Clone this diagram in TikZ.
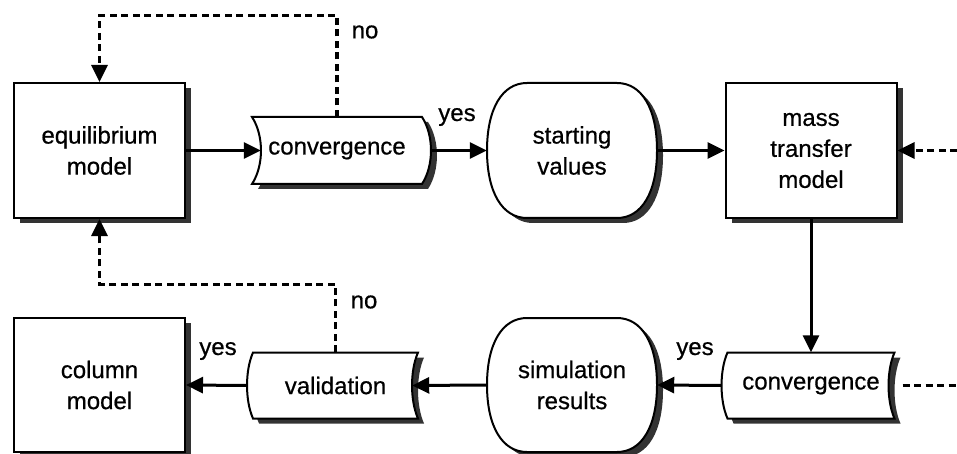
\documentclass[tikz,border=0pt]{standalone}
\usepackage{fontspec}
\setmainfont{Liberation Sans}[FakeBold=0.6]
\usetikzlibrary{arrows.meta,shadows,calc}
\definecolor{shadowc}{gray}{0.2}
\tikzset{
  txt/.style={font=\fontsize{24}{31}\selectfont, align=center, inner sep=0pt},
  modelbox/.style={txt, draw=black, line width=2pt, fill=white, minimum width=171pt, minimum height=135pt,
    drop shadow={shadow xshift=6pt, shadow yshift=-5pt, fill=shadowc, opacity=1}},
  holder/.style={txt, minimum width=170pt, minimum height=67pt},
  outline/.style={draw=black, line width=2pt, fill=white},
  shadowfill/.style={fill=shadowc, draw=none},
  arr/.style={line width=3pt, -{Triangle[length=17pt,width=16pt]}},
  darr/.style={line width=3.2pt, dash pattern=on 7pt off 4.5pt, -{Triangle[length=17pt,width=16pt]}},
  dline/.style={line width=3.2pt, dash pattern=on 7pt off 4.5pt},
  lbl/.style={font=\fontsize{24}{27}\selectfont, inner sep=0pt}
}
% tape pointing right: center x, center y, half width, half height, bulge
\newcommand{\tapeRight}[5]{%
  \foreach \dx/\dy/\sty in {6/5/shadowfill, 0/0/outline}{%
  \path[\sty, shift={(#1+\dx,#2+\dy)}] (-#3,-#4) -- (#3,-#4)
    .. controls ({#3+1.33*#5},{-0.45*#4}) and ({#3+1.33*#5},{0.45*#4}) .. (#3,#4)
    -- (-#3,#4)
    .. controls ({-#3+1.33*#5},{0.45*#4}) and ({-#3+1.33*#5},{-0.45*#4}) .. (-#3,-#4) -- cycle;}}
% tape pointing left
\newcommand{\tapeLeft}[5]{%
  \foreach \dx/\dy/\sty in {6/5/shadowfill, 0/0/outline}{%
  \path[\sty, shift={(#1+\dx,#2+\dy)}] (-#3,-#4) -- (#3,-#4)
    .. controls ({#3-1.33*#5},{-0.45*#4}) and ({#3-1.33*#5},{0.45*#4}) .. (#3,#4)
    -- (-#3,#4)
    .. controls ({-#3-1.33*#5},{0.45*#4}) and ({-#3-1.33*#5},{-0.45*#4}) .. (-#3,-#4) -- cycle;}}
% rounded terminal: center x, center y, half width, half height, corner x radius
\newcommand{\roundShape}[5]{%
  \foreach \dx/\dy/\sty in {6/5/shadowfill, 0/0/outline}{%
  \path[\sty, shift={(#1+\dx,#2+\dy)}] ({-#3+#5},-#4) -- ({#3-#5},-#4)
    .. controls ({#3-0.38*#5},-#4) and (#3,{-0.62*#4}) .. (#3,0)
    .. controls (#3,{0.62*#4}) and ({#3-0.38*#5},#4) .. ({#3-#5},#4)
    -- ({-#3+#5},#4)
    .. controls ({-#3+0.38*#5},#4) and (-#3,{0.62*#4}) .. (-#3,0)
    .. controls (-#3,{-0.62*#4}) and ({-#3+0.38*#5},-#4) .. ({-#3+#5},-#4) -- cycle;}}
\begin{document}
\begin{tikzpicture}[x=1pt,y=-1pt]
\useasboundingbox[fill=white] (0,0) rectangle (957,454);
% shapes
\tapeRight{337}{150.5}{85}{33.5}{9}
\roundShape{572}{150.5}{85}{67.5}{40}
\roundShape{572}{385}{85}{67}{40}
\tapeLeft{811}{385.5}{83.5}{33}{6}
\tapeLeft{335.5}{385.5}{82.5}{33}{6}
% nodes
\node[modelbox] (eq) at (99.5,150.5) {equilibrium\\model};
\node[holder] (c1) at (337,150.5) {convergence};
\node[txt, minimum width=170pt, minimum height=135pt] (sv) at (572,150.5) {starting\\values};
\node[modelbox] (mt) at (811,150.5) {mass\\transfer\\model};
\node[holder, minimum width=167pt, minimum height=66pt] (c2) at (811,385.5) {convergence};
\node[txt, minimum width=170pt, minimum height=134pt] (sim) at (572,385) {simulation\\results};
\node[holder, minimum width=165pt, minimum height=66pt] (val) at (335.5,385.5) {validation};
\node[modelbox, minimum height=134pt] (col) at (99.5,385) {column\\model};
% labels
\node[lbl] (no1) at (365,32) {no};
\node[lbl] (yes1) at (457,117) {yes};
\node[lbl] (yes2) at (695,351) {yes};
\node[lbl] (no2) at (364,302) {no};
\node[lbl] (yes3) at (218,351) {yes};
% free ends
\coordinate (rin) at (957,150.5);
\coordinate (rout) at (957,385.5);
% connectors
\draw[arr] (eq.east) -- ([xshift=9pt]c1.west);
\draw[arr] ([xshift=9pt]c1.east) -- (sv.west);
\draw[arr] (sv.east) -- (mt.west);
\draw[darr] (c1.north) -- ++(0,-101.5) -| (eq.north);
\draw[darr] (rin) -- (mt.east);
\draw[arr] (mt.south) -- (c2.north);
\draw[arr] ([xshift=-6pt]c2.west) -- (sim.east);
\draw[dline] ([xshift=8pt]c2.east) -- (rout);
\draw[arr] (sim.west) -- ([xshift=-6pt]val.east);
\draw[arr] ([xshift=-6pt]val.west) -- (col.east);
\draw[darr] (val.north) -- ++(0,-68) -| (eq.south);
\end{tikzpicture}
\end{document}
